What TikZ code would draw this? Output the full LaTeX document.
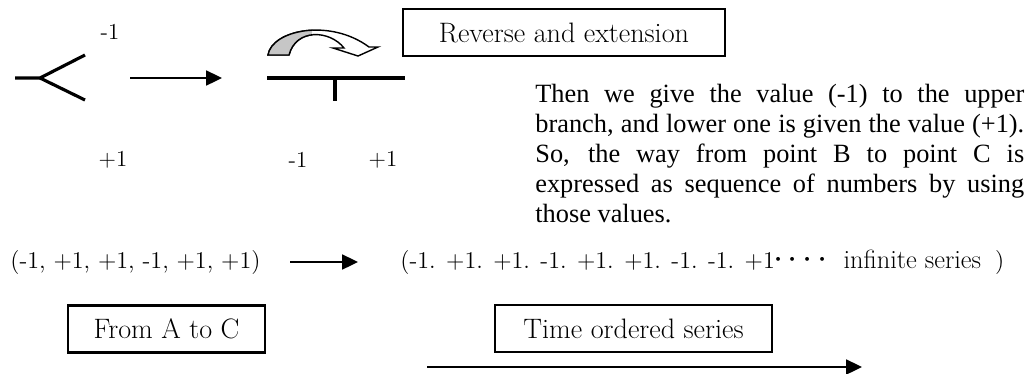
\documentclass[tikz,border=0pt]{standalone}
\usepackage{fontspec}
\newfontfamily\parafont{Liberation Serif}
\usetikzlibrary{arrows.meta}
\begin{document}
\begin{tikzpicture}[x=0.02cm, y=-0.02cm,
  lbl/.style={font=\fontsize{13}{15}\selectfont},
  seq/.style={anchor=west, inner sep=0pt, font=\fontsize{13.7}{16}\selectfont},
  framed/.style={draw, line width=1.4pt, minimum height=0.94cm, font=\fontsize{16}{18}\selectfont},
  fwd/.style={line width=1.1pt, -{Triangle[length=9pt, width=8.5pt]}},
  twig/.style={line width=1.8pt}]
  \useasboundingbox (0,0) rectangle (1028,373);
  % fork and its values
  \coordinate (stem) at (15,78);
  \coordinate (fork) at (40,78);
  \coordinate (upper) at (85,55);
  \coordinate (lower) at (85,100);
  \draw[twig] (stem) -- (fork) -- (upper);
  \draw[twig] (fork) -- (lower);
  \node[lbl] (upA) at (110,32) {-1};
  \node[lbl] (lowA) at (113,160) {+1};
  \coordinate (go0) at (130,78);
  \coordinate (go1) at (222,78);
  \draw[fwd] (go0) -- (go1);
  % reversed fork
  \coordinate (barL) at (267,78);
  \coordinate (barR) at (405,78);
  \coordinate (barM) at (335,78);
  \coordinate (barT) at (335,101);
  \draw[twig] (barL) -- (barR);
  \draw[twig] (barM) -- (barT);
  \node[lbl] (lowB) at (298,160) {-1};
  \node[lbl] (lowC) at (383,160) {+1};
  % turning arrow
  \draw[line width=0.8pt, fill=white] (268,55) .. controls (272,30) and (330,18) .. (369,47)
    -- (378,47) -- (358,56) -- (333,48) -- (344,48) .. controls (330,30) and (296,28) .. (289,55) -- cycle;
  \begin{scope}
    \clip (260,20) rectangle (312,60);
    \fill[gray!45, draw=black, line width=0.8pt] (268,55) .. controls (272,30) and (330,18) .. (369,47)
      -- (378,47) -- (358,56) -- (333,48) -- (344,48) .. controls (330,30) and (296,28) .. (289,55) -- cycle;
  \end{scope}
  \node[framed, minimum width=6.44cm] (rev) at (564,32.5) {Reverse and extension};
  \node[anchor=north west, inner sep=0pt, text width=9.78cm, align=justify,
    font=\parafont\fontsize{15}{17}\selectfont] (para) at (535,84)
    {Then we give the value (-1) to the upper\linebreak branch, and lower one is given the value (+1).\linebreak
     So, the way from point B to point C is\linebreak expressed as sequence of numbers by using\linebreak those values.};
  % sequences
  \node[seq] (seqA) at (10,262) {(-1, +1, +1, -1, +1, +1)};
  \node[seq] (seqB) at (400,262) {(-1. +1. +1. -1. +1. +1. -1. -1. +1\hspace{-1pt}{\fontsize{20}{20}\selectfont$\cdot$\hspace{2.7pt}$\cdot$\hspace{2.7pt}$\cdot$\hspace{2.7pt}$\cdot$}\hspace{9pt}{\fontsize{15}{16}\selectfont infinite series}\hspace{8pt})};
  \coordinate (s0) at (290,262);
  \coordinate (s1) at (358,262);
  \draw[fwd] (s0) -- (s1);
  \node[framed, minimum width=3.94cm] (fromAC) at (166.5,329) {From A to C};
  \node[framed, minimum width=5.54cm] (timeord) at (633.5,328.5) {Time ordered series};
  \coordinate (t0) at (427,367);
  \coordinate (t1) at (862,367);
  \draw[fwd] (t0) -- (t1);
\end{tikzpicture}
\end{document}
